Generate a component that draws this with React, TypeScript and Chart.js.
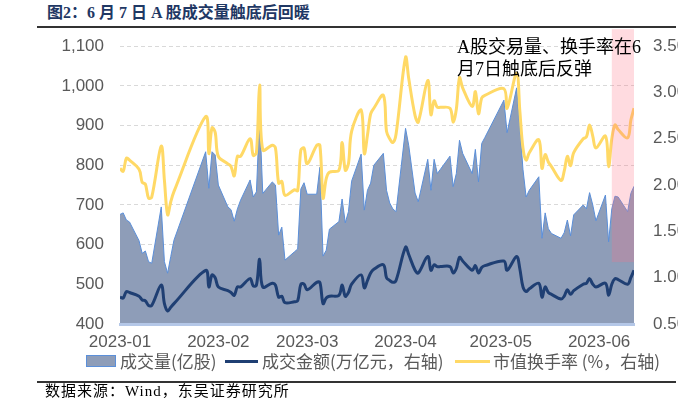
import React, { useEffect, useRef } from 'react';
import { Chart, registerables } from 'chart.js';

Chart.register(...registerables);

// ---- data (trading days, 2023) ----
const tradeDates = [
  '01-03', '01-04', '01-05', '01-06', '01-09', '01-10', '01-11', '01-12', '01-13', '01-16', '01-17', '01-18', '01-19', '01-20', '01-30', '01-31',
  '02-01', '02-02', '02-03', '02-06', '02-07', '02-08', '02-09', '02-10', '02-13', '02-14', '02-15', '02-16', '02-17', '02-20', '02-21', '02-22', '02-23', '02-24', '02-27', '02-28',
  '03-01', '03-02', '03-03', '03-06', '03-07', '03-08', '03-09', '03-10', '03-13', '03-14', '03-15', '03-16', '03-17', '03-20', '03-21', '03-22', '03-23', '03-24', '03-27', '03-28', '03-29', '03-30', '03-31',
  '04-03', '04-04', '04-06', '04-07', '04-10', '04-11', '04-12', '04-13', '04-14', '04-17', '04-18', '04-19', '04-20', '04-21', '04-24', '04-25', '04-26', '04-27', '04-28',
  '05-04', '05-05', '05-08', '05-09', '05-10', '05-11', '05-12', '05-15', '05-16', '05-17', '05-18', '05-19', '05-22', '05-23', '05-24', '05-25', '05-26', '05-29', '05-30', '05-31',
  '06-01', '06-02', '06-05', '06-06', '06-07', '06-08', '06-09', '06-12', '06-13', '06-14',
];

// 成交量(亿股)
const volume = [
  676, 680, 662, 657, 610, 578, 584, 557, 553, 695, 557, 528, 570, 611, 834, 742,
  834, 826, 750, 695, 688, 659, 690, 712, 763, 720, 733, 926, 729, 758, 750, 624, 644, 561, 582, 589,
  740, 756, 727, 727, 795, 571, 586, 639, 658, 715, 655, 683, 760, 828, 687, 737, 755, 800, 830, 737, 705, 690, 683,
  893, 850, 730, 708, 815, 737, 815, 779, 790, 823, 746, 779, 863, 830, 779, 840, 758, 855, 870,
  964, 882, 995, 900, 790, 720, 737, 771, 616, 680, 640, 628, 616, 630, 662, 622, 675, 700, 690, 731,
  700, 660, 725, 607, 690, 722, 720, 683, 729, 747,
];

// 成交金额(万亿元)
const amount = [
  0.79, 0.78, 0.85, 0.84, 0.80, 0.76, 0.75, 0.70, 0.70, 0.92, 0.72, 0.64, 0.68, 0.72, 1.08, 0.90,
  1.03, 1.00, 0.90, 0.86, 0.84, 0.81, 0.90, 0.90, 0.99, 0.91, 0.92, 1.20, 0.90, 0.94, 0.92, 0.79, 0.80, 0.73, 0.74, 0.75,
  0.93, 0.93, 0.87, 0.95, 0.95, 0.72, 0.78, 0.80, 0.81, 0.92, 0.80, 0.84, 0.93, 1.03, 0.89, 0.97, 1.05, 1.09, 1.14, 1.00, 0.97, 0.95, 0.97,
  1.33, 1.25, 1.08, 1.05, 1.23, 1.08, 1.14, 1.12, 1.12, 1.12, 1.05, 1.10, 1.22, 1.18, 1.08, 1.13, 1.05, 1.11, 1.13,
  1.18, 1.08, 1.23, 1.10, 0.90, 0.85, 0.88, 0.94, 0.79, 0.90, 0.84, 0.82, 0.77, 0.80, 0.87, 0.82, 0.86, 0.93, 0.94, 0.99,
  0.93, 0.90, 0.94, 0.81, 0.93, 0.99, 0.98, 0.93, 1.00, 1.08,
];

// 市值换手率(%)
const turnover = [
  2.18, 2.15, 2.29, 2.27, 2.17, 2.03, 2.01, 1.86, 1.87, 2.42, 2.05, 1.68, 1.82, 1.93, 2.74, 2.34,
  2.62, 2.57, 2.31, 2.23, 2.20, 2.10, 2.31, 2.31, 2.50, 2.32, 2.35, 3.08, 2.38, 2.43, 2.40, 2.02, 2.04, 1.89, 1.95, 1.94,
  2.38, 2.40, 2.23, 2.43, 2.43, 1.86, 2.07, 2.14, 2.16, 2.46, 2.16, 2.23, 2.58, 2.81, 2.34, 2.54, 2.77, 2.83, 2.97, 2.58, 2.50, 2.46, 2.55,
  3.38, 3.15, 2.75, 2.68, 3.13, 2.76, 2.91, 2.84, 2.84, 2.83, 2.68, 2.82, 3.16, 3.05, 2.85, 3.01, 2.77, 2.94, 2.97,
  3.04, 2.83, 3.21, 2.81, 2.40, 2.27, 2.35, 2.49, 2.18, 2.33, 2.25, 2.20, 2.05, 2.15, 2.31, 2.21, 2.35, 2.50, 2.52, 2.65,
  2.53, 2.40, 2.53, 2.20, 2.50, 2.65, 2.60, 2.51, 2.70, 2.83,
];

const tickDates = ['01-03', '02-03', '03-03', '04-03', '05-03', '06-03'];
const tickLabels = ['2023-01', '2023-02', '2023-03', '2023-04', '2023-05', '2023-06'];

const leftMin = 400;
const leftMax = 1100;
const leftStep = 100;
const rightMin = 0.5;
const rightMax = 3.5;
const rightStep = 0.5;

const highlightFrom = '06-07';
const highlightTo = '06-14';
const highlightFloor = 556;

const seriesNames = ['成交量(亿股)', '成交金额(万亿元，右轴)', '市值换手率 (%，右轴)'];

const AREA_FILL = 'rgb(142,157,184)';
const AREA_LINE = '#5b8fd9';
const NAVY = '#1f3f73';
const YELLOW = '#ffd966';

const MONTH_START = [0, 31, 59, 90, 120, 151, 181];
const dayOfYear = (md: string) => {
  const [m, d] = md.split('-').map(Number);
  return MONTH_START[m - 1] + d;
};

const TICK_FONT = '"Liberation Sans", Arial, sans-serif';
const CJK = '"Noto Sans CJK SC", sans-serif';
const SERIF_CJK = '"Liberation Serif", "Noto Sans CJK SC", serif';

const CANVAS_TOP = 17;

export default function App() {
  const canvasRef = useRef<HTMLCanvasElement | null>(null);

  useEffect(() => {
    if (!canvasRef.current) return;
    const xs = tradeDates.map(dayOfYear);
    const tickVals = tickDates.map(dayOfYear);

    const highlight = {
      id: 'highlight',
      afterDatasetsDraw(chart: any) {
        const { ctx, scales, chartArea } = chart;
        const l = scales.x.getPixelForValue(dayOfYear(highlightFrom));
        const r = scales.x.getPixelForValue(dayOfYear(highlightTo));
        const b = scales.y.getPixelForValue(highlightFloor);
        const t = chartArea.top - 17;
        ctx.save();
        ctx.fillStyle = 'rgba(255,110,130,0.25)';
        ctx.fillRect(l, t, r - l, b - t);
        ctx.restore();
      },
    };

    const chart = new Chart(canvasRef.current, {
      type: 'line',
      data: {
        datasets: [
          {
            label: seriesNames[0],
            data: xs.map((x, i) => ({ x, y: volume[i] })),
            yAxisID: 'y',
            borderColor: AREA_LINE,
            borderWidth: 1,
            backgroundColor: AREA_FILL,
            fill: 'start',
            pointRadius: 0,
            tension: 0,
            order: 3,
          },
          {
            label: seriesNames[1],
            data: xs.map((x, i) => ({ x, y: amount[i] })),
            yAxisID: 'y1',
            borderColor: NAVY,
            backgroundColor: NAVY,
            borderWidth: 3,
            fill: false,
            pointRadius: 0,
            tension: 0.35,
            order: 2,
          },
          {
            label: seriesNames[2],
            data: xs.map((x, i) => ({ x, y: turnover[i] })),
            yAxisID: 'y1',
            borderColor: YELLOW,
            backgroundColor: YELLOW,
            borderWidth: 3,
            fill: false,
            pointRadius: 0,
            tension: 0.35,
            order: 1,
          },
        ],
      },
      options: {
        responsive: false,
        animation: false,
        devicePixelRatio: 1,
        layout: { padding: { top: 0, bottom: 28, left: 0, right: 0 } },
        plugins: {
          legend: { display: false },
          tooltip: { enabled: false },
        },
        scales: {
          x: {
            type: 'linear',
            min: xs[0],
            max: xs[xs.length - 1],
            afterBuildTicks: (s: any) => {
              s.ticks = tickVals.map((v) => ({ value: v }));
            },
            afterFit: (s: any) => {
              s.height = 30;
            },
            ticks: {
              autoSkip: false,
              maxRotation: 0,
              padding: 8,
              color: '#595959',
              font: { family: TICK_FONT, size: 17 },
              callback: (_v: any, i: number) => tickLabels[i] ?? '',
            },
            grid: { display: false, drawTicks: false },
            border: { display: true, color: '#b4c7e7', width: 3, z: 1 },
          },
          y: {
            position: 'left',
            min: leftMin,
            max: leftMax,
            afterFit: (s: any) => {
              s.width = 120;
            },
            ticks: {
              stepSize: leftStep,
              padding: 16,
              color: '#595959',
              font: { family: TICK_FONT, size: 17 },
              callback: (v: any) => Number(v).toLocaleString('en-US'),
            },
            grid: { color: '#d9d9d9', lineWidth: 1, drawTicks: false },
            border: { display: false, dash: [4, 3] },
          },
          y1: {
            position: 'right',
            min: rightMin,
            max: rightMax,
            afterFit: (s: any) => {
              s.width = 44;
            },
            ticks: {
              stepSize: rightStep,
              padding: 19,
              color: '#595959',
              font: { family: TICK_FONT, size: 17 },
              callback: (v: any) => Number(v).toFixed(2),
            },
            grid: { display: false, drawTicks: false },
            border: { display: false },
          },
        },
      },
      plugins: [highlight],
    } as any);

    return () => chart.destroy();
  }, []);

  const legendText: React.CSSProperties = {
    position: 'absolute',
    top: 350,
    fontFamily: CJK,
    fontSize: 17,
    lineHeight: '22px',
    color: '#595959',
    whiteSpace: 'nowrap',
  };

  return (
    <div style={{ position: 'absolute', left: 0, top: 0, width: 694, height: 398, background: '#fff', overflow: 'hidden' }}>
      <div
        style={{
          position: 'absolute', left: 47, top: 4, fontFamily: SERIF_CJK, fontWeight: 'bold', fontSize: 16,
          lineHeight: '18px', color: '#1f3864', whiteSpace: 'nowrap',
        }}
      >
        图2：6 月 7 日 A 股成交量触底后回暖
      </div>
      <div style={{ position: 'absolute', left: 37, top: 26, width: 639, height: 2, background: '#333' }} />
      <canvas
        ref={canvasRef}
        width={678}
        height={382 - CANVAS_TOP}
        style={{ position: 'absolute', left: 0, top: CANVAS_TOP, width: 678, height: 382 - CANVAS_TOP }}
      />
      <div
        style={{
          position: 'absolute', left: 457, top: 36, fontFamily: SERIF_CJK, fontSize: 18, lineHeight: '22px',
          color: '#000', whiteSpace: 'nowrap',
        }}
      >
        A股交易量、换手率在6
        <br />
        月7日触底后反弹
      </div>
      {/* legend */}
      <div
        style={{
          position: 'absolute', left: 86, top: 355, width: 30, height: 12, background: AREA_FILL,
          border: `1.5px solid ${AREA_LINE}`, boxSizing: 'border-box',
        }}
      />
      <div style={{ ...legendText, left: 120 }}>{seriesNames[0]}</div>
      <div style={{ position: 'absolute', left: 225, top: 360, width: 33, height: 3, background: NAVY }} />
      <div style={{ ...legendText, left: 262 }}>{seriesNames[1]}</div>
      <div style={{ position: 'absolute', left: 455, top: 360, width: 35, height: 3, background: YELLOW }} />
      <div style={{ ...legendText, left: 493 }}>{seriesNames[2]}</div>
      <div style={{ position: 'absolute', left: 37, top: 381, width: 639, height: 2, background: '#333' }} />
      <div
        style={{
          position: 'absolute', left: 45, top: 384, fontFamily: SERIF_CJK, fontSize: 15, lineHeight: '15px',
          color: '#000', whiteSpace: 'nowrap', letterSpacing: 1,
        }}
      >
        数据来源：Wind，东吴证券研究所
      </div>
    </div>
  );
}
